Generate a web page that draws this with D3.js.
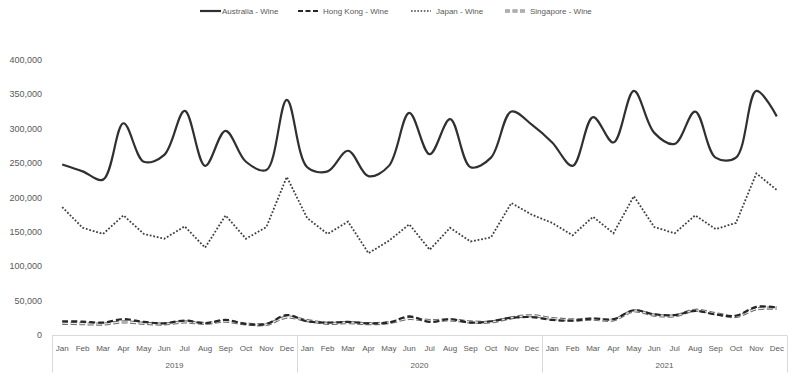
<!DOCTYPE html>
<html>
<head>
<meta charset="utf-8">
<script src="https://cdn.jsdelivr.net/npm/d3@7"></script>
<style>
  body { margin: 0; background: #fff; }
  svg text { font-family: "Liberation Sans", "DejaVu Sans", sans-serif; fill: #595959; }
</style>
</head>
<body>
<div id="chart"></div>
<script>
// chart data
const years = ["2019", "2020", "2021"];
const months = ["Jan", "Feb", "Mar", "Apr", "May", "Jun", "Jul", "Aug", "Sep", "Oct", "Nov", "Dec"];
const yTicks = [0, 50000, 100000, 150000, 200000, 250000, 300000, 350000, 400000];

const australia = [248000, 238000, 226000, 308000, 252000, 262000, 326000, 246000, 297000, 252000, 240000, 342000,
                   244000, 238000, 268000, 231000, 246000, 323000, 263000, 314000, 244000, 258000, 325000, 306000,
                   280000, 246000, 317000, 280000, 355000, 294000, 278000, 325000, 258000, 258000, 355000, 318000];
const hongKong = [20000, 19500, 18000, 23000, 19000, 17000, 21000, 17000, 22000, 16000, 16000, 29000,
                  20000, 18000, 19000, 17000, 18000, 27000, 19000, 23000, 18000, 20000, 25000, 26000,
                  22000, 21000, 24000, 23000, 36000, 30000, 29000, 35000, 30000, 28000, 41000, 40000];
const japan = [186000, 156000, 147000, 174000, 147000, 140000, 158000, 127000, 174000, 140000, 157000, 230000,
               170000, 147000, 165000, 119000, 137000, 161000, 124000, 156000, 136000, 142000, 192000, 175000,
               163000, 145000, 172000, 148000, 202000, 157000, 148000, 174000, 154000, 163000, 235000, 211000];
const singapore = [17000, 16500, 16000, 19000, 17000, 16000, 19000, 17000, 20000, 16000, 15500, 26000,
                   21000, 17000, 18000, 16500, 18000, 24000, 21000, 22000, 19000, 19000, 25000, 28000,
                   24000, 22000, 23000, 22000, 35000, 29000, 28000, 36000, 31000, 27000, 38000, 39000];

const seriesNames = ["Australia - Wine", "Hong Kong - Wine", "Japan - Wine", "Singapore - Wine"];

const width = 792, height = 385;
const margin = {top: 60, right: 5, bottom: 50, left: 52};

const svg = d3.select("#chart").append("svg")
    .attr("width", width)
    .attr("height", height);

// one category per month
const cats = [];
years.forEach(y => months.forEach(m => cats.push(y + "-" + m)));

const x = d3.scaleBand()
    .domain(cats)
    .range([margin.left, width - margin.right]);

const y = d3.scaleLinear()
    .domain([0, 400000])
    .range([height - margin.bottom, margin.top]);

const cx = i => x(cats[i]) + x.bandwidth() / 2;

// y axis labels (no line)
svg.append("g")
    .selectAll("text")
    .data(yTicks)
    .join("text")
    .attr("x", 42)
    .attr("y", d => y(d) + 3)
    .attr("text-anchor", "end")
    .style("font-size", "9px")
    .text(d => d3.format(",")(d));

// x axis line
const axisY = y(0) + 0.5;
svg.append("line")
    .attr("x1", margin.left).attr("x2", width - margin.right)
    .attr("y1", axisY).attr("y2", axisY)
    .attr("stroke", "#d9d9d9");

// year separators
const bounds = [0, 12, 24, 36];
svg.append("g")
    .selectAll("line")
    .data(bounds)
    .join("line")
    .attr("x1", d => Math.round(d < 36 ? x(cats[d]) : x(cats[35]) + x.bandwidth()) + 0.5)
    .attr("x2", d => Math.round(d < 36 ? x(cats[d]) : x(cats[35]) + x.bandwidth()) + 0.5)
    .attr("y1", axisY)
    .attr("y2", axisY + 37)
    .attr("stroke", "#d9d9d9");

// month labels
svg.append("g")
    .selectAll("text")
    .data(cats)
    .join("text")
    .attr("x", (d, i) => cx(i))
    .attr("y", axisY + 15)
    .attr("text-anchor", "middle")
    .style("font-size", "8px")
    .text(d => d.split("-")[1]);

// year labels
svg.append("g")
    .selectAll("text")
    .data(years)
    .join("text")
    .attr("x", (d, i) => (cx(i * 12) + cx(i * 12 + 11)) / 2)
    .attr("y", axisY + 32)
    .attr("text-anchor", "middle")
    .style("font-size", "8px")
    .text(d => d);

// line generators
const smooth = d3.line()
    .x((d, i) => cx(i))
    .y(d => y(d))
    .curve(d3.curveCatmullRom.alpha(0.5));

const straight = d3.line()
    .x((d, i) => cx(i))
    .y(d => y(d));

const plot = svg.append("g");

// Singapore: hollow gray dashes
plot.append("path")
    .attr("d", smooth(singapore))
    .attr("fill", "none")
    .attr("stroke", "#707070")
    .attr("stroke-width", 3.2)
    .attr("stroke-dasharray", "6,2.5");
plot.append("path")
    .attr("d", smooth(singapore))
    .attr("fill", "none")
    .attr("stroke", "#ededed")
    .attr("stroke-width", 1.1)
    .attr("stroke-dasharray", "6,2.5");

// Hong Kong: black dashes
plot.append("path")
    .attr("d", smooth(hongKong))
    .attr("fill", "none")
    .attr("stroke", "#262626")
    .attr("stroke-width", 2.2)
    .attr("stroke-dasharray", "6,3");

// Japan: dotted straight segments
plot.append("path")
    .attr("d", straight(japan))
    .attr("fill", "none")
    .attr("stroke", "#404040")
    .attr("stroke-width", 1.8)
    .attr("stroke-dasharray", "1.8,1.8");

// Australia: solid smooth
plot.append("path")
    .attr("d", smooth(australia))
    .attr("fill", "none")
    .attr("stroke", "#303030")
    .attr("stroke-width", 2.2);

// legend
const legendItems = [
    {name: seriesNames[0], x: 200, type: "solid"},
    {name: seriesNames[1], x: 298, type: "dash"},
    {name: seriesNames[2], x: 411, type: "dot"},
    {name: seriesNames[3], x: 505, type: "hollow"}
];
const legend = svg.append("g");
legendItems.forEach(it => {
    const g = legend.append("g").attr("transform", `translate(${it.x}, 11)`);
    if (it.type === "solid") {
        g.append("line").attr("x1", 0).attr("x2", 21).attr("stroke", "#303030").attr("stroke-width", 2.2);
    } else if (it.type === "dash") {
        g.append("line").attr("x1", 0).attr("x2", 20).attr("stroke", "#262626").attr("stroke-width", 2.2)
            .attr("stroke-dasharray", "5,2.5");
    } else if (it.type === "dot") {
        g.append("line").attr("x1", 0).attr("x2", 20).attr("stroke", "#404040").attr("stroke-width", 1.6)
            .attr("stroke-dasharray", "1.6,1.6");
    } else {
        g.append("line").attr("x1", 0).attr("x2", 21).attr("stroke", "#707070").attr("stroke-width", 3)
            .attr("stroke-dasharray", "5,2.5");
        g.append("line").attr("x1", 0).attr("x2", 21).attr("stroke", "#ededed").attr("stroke-width", 1)
            .attr("stroke-dasharray", "5,2.5");
    }
    g.append("text")
        .attr("x", it.type === "solid" ? 22 : 25)
        .attr("y", 3)
        .style("font-size", "8px")
        .text(it.name);
});
</script>
</body>
</html>
